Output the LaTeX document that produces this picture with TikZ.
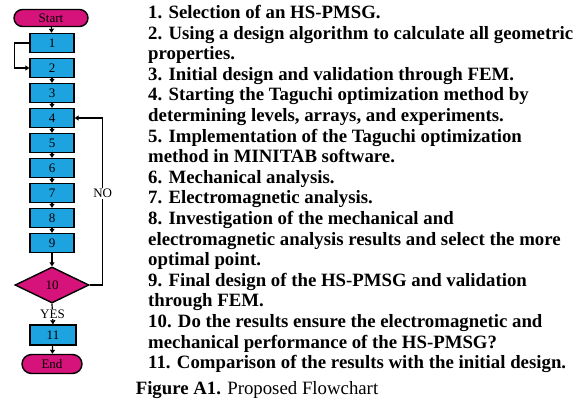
\documentclass[tikz,border=0pt]{standalone}
\usepackage{fontspec}
\setmainfont{Liberation Serif}
\usetikzlibrary{shapes.geometric,shapes.misc,arrows.meta}
\definecolor{boxblue}{HTML}{1CA3E0}
\definecolor{termred}{HTML}{D5137A}
\tikzset{
  stepbox/.style={draw,line width=1.4pt,fill=boxblue,minimum width=44pt,minimum height=19pt,inner sep=0pt,font=\fontsize{13}{13}\selectfont},
  term/.style={draw,line width=1.4pt,fill=termred,rounded rectangle,minimum width=74pt,minimum height=17pt,inner sep=0pt,font=\fontsize{13}{13}\selectfont},
  decide/.style={draw,line width=1.4pt,fill=termred,diamond,aspect=2.05,minimum width=74pt,minimum height=36pt,inner sep=0pt,font=\fontsize{13}{13}\selectfont},
  flow/.style={line width=1.2pt,-{Triangle[length=4pt,width=5pt]}}
}
\begin{document}
\begin{tikzpicture}[x=1pt,y=-1pt]
            \useasboundingbox (0,0) rectangle (583,405);
            \node[term] (start) at (51,18) {Start};
            \foreach \i/\y in {1/43,2/68,3/93,4/118,5/143,6/168,7/193,8/218,9/243}
              \node[stepbox] (b\i) at (52,\y) {\i};
            \node[decide] (b10) at (52,285) {10};
            \node[stepbox,minimum width=46pt,minimum height=20pt] (b11) at (53,335) {11};
            \node[term,minimum width=60pt,minimum height=19pt] (end) at (52,364) {End};
            \draw[flow] (start) -- (b1);
            \draw[flow] (b1.west) -- ++(-15,0) |- (b2.west);
            \foreach \i [evaluate=\i as \j using int(\i+1)] in {2,...,8}
              \draw[flow] (b\i) -- (b\j);
            \draw[flow] (b9) -- (b10);
            \draw[flow] (b10.east) -- ++(13,0) coordinate (turn) |- (b4.east)
              node[pos=0.275,fill=white,inner sep=1pt,font=\fontsize{13}{13}\selectfont] (no) {NO};
            \draw[flow] (b10.south) -- (b11.north)
              node[midway,fill=white,inner sep=1pt,font=\fontsize{13}{13}\selectfont] (yes) {YES};
            \draw[flow] (b11) -- (end);
            \node[anchor=north west,align=left,inner sep=0pt,font=\bfseries\fontsize{18.8}{20.6}\selectfont] (steps) at (148,5) {%
              1. Selection of an HS-PMSG.\\
              2. Using a design algorithm to calculate all geometric\\
              properties.\\
              3. Initial design and validation through FEM.\\
              4. Starting the Taguchi optimization method by\\
              determining levels, arrays, and experiments.\\
              5. Implementation of the Taguchi optimization\\
              method in MINITAB software.\\
              6. Mechanical analysis.\\
              7. Electromagnetic analysis.\\
              8. Investigation of the mechanical and\\
              electromagnetic analysis results and select the more\\
              optimal point.\\
              9. Final design of the HS-PMSG and validation\\
              through FEM.\\
              10. Do the results ensure the electromagnetic and\\
              mechanical performance of the HS-PMSG?\\
              11. Comparison of the results with the initial design.};
            \node[inner sep=0pt,font=\fontsize{18.8}{18.8}\selectfont] (caption) at (257,390) {\textbf{Figure A1.} Proposed Flowchart};
\end{tikzpicture}
\end{document}
